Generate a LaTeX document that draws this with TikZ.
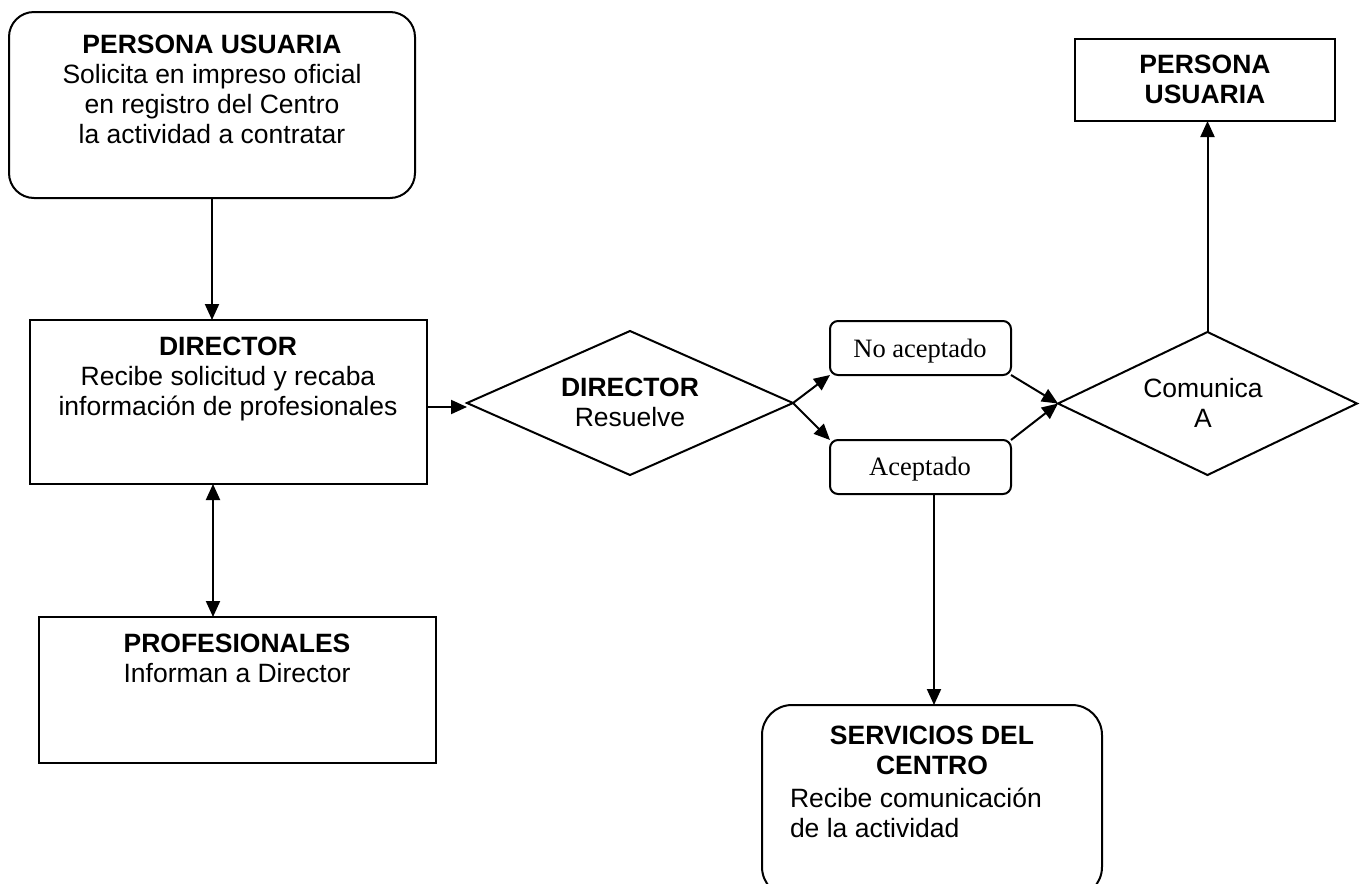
\documentclass[tikz,border=0pt]{standalone}
\usepackage{fontspec}
\setmainfont{Liberation Sans}
\newfontfamily\serifface{Liberation Serif}
\usetikzlibrary{arrows.meta,shapes.geometric}
\begin{document}
\begin{tikzpicture}[x=1pt,y=-1pt,
  every node/.style={outer sep=0pt},
  frame/.style={draw,line width=2pt,rectangle,inner sep=0pt},
  rbox/.style={frame,rounded corners=#1},
  dia/.style={draw,line width=2pt,diamond,inner sep=0pt},
  txt/.style={inner sep=0pt,anchor=north,align=center,font=\fontsize{26.5}{30}\selectfont},
  stxt/.style={txt,font=\serifface\fontsize{26.5}{30}\selectfont},
  arr/.style={line width=2pt,-{Triangle[length=16pt,width=14pt]}},
  arrb/.style={line width=2pt,{Triangle[length=16pt,width=14pt]}-{Triangle[length=16pt,width=14pt]}}
]
\useasboundingbox (0,0) rectangle (1361,884);
% shapes
\node[rbox=25pt,minimum width=406pt,minimum height=186pt] (b1) at (212,105) {};
\node[frame,minimum width=397pt,minimum height=164pt] (dir) at (228.5,402) {};
\node[frame,minimum width=397pt,minimum height=146pt] (prof) at (237.5,690) {};
\node[dia,minimum width=326pt,minimum height=144pt] (d1) at (630,403) {};
\node[rbox=8pt,minimum width=181pt,minimum height=54pt] (noac) at (920.5,348) {};
\node[rbox=8pt,minimum width=181pt,minimum height=54pt] (acep) at (920.5,467) {};
\node[dia,minimum width=299pt,minimum height=143pt] (d2) at (1207.5,403.5) {};
\node[frame,minimum width=260pt,minimum height=82pt] (pu2) at (1205,80) {};
\node[rbox=30pt,minimum width=340pt,minimum height=192pt] (serv) at (932,801) {};
% texts
\node[txt] (b1t) at (212,35) {\textbf{PERSONA USUARIA}\\Solicita en impreso oficial\\en registro del Centro\\la actividad a contratar};
\node[txt] (dirt) at (228,337) {\textbf{DIRECTOR}\\Recibe solicitud y recaba\\información de profesionales};
\node[txt] (proft) at (237,634) {\textbf{PROFESIONALES}\\Informan a Director};
\node[txt] (d1t) at (630,378) {\textbf{DIRECTOR}\\Resuelve};
\node[stxt] (noact) at (920,339) {No aceptado};
\node[stxt] (acept) at (920,457) {Aceptado};
\node[txt] (d2t) at (1203,378) {Comunica\\A};
\node[txt] (pu2t) at (1205,55) {\textbf{PERSONA}\\\textbf{USUARIA}};
\node[txt] (servt) at (932,726) {\textbf{SERVICIOS DEL}\\\textbf{CENTRO}};
\node[txt,anchor=north west,align=left] (servt2) at (790,788) {Recibe comunicación\\de la actividad};
% connectors
\draw[arr] (b1.south) -- (b1.south |- dir.north);
\draw[arrb] ([xshift=-15.5pt]dir.south) -- ([xshift=-15.5pt]dir.south |- prof.north);
\draw[arr] ([yshift=-5pt]dir.east) -- ([yshift=-5pt]dir.east -| d1.west);
\draw[arr] (d1.east) -- (noac.south west);
\draw[arr] (d1.east) -- (acep.north west);
\draw[arr] (noac.south east) -- (d2.west);
\draw[arr] (acep.north east) -- (d2.west);
\draw[arr] (d2.north) -- (d2.north |- pu2.south);
\draw[arr] ([xshift=13.5pt]acep.south) -- ([xshift=13.5pt]acep.south |- serv.north);
\end{tikzpicture}
\end{document}
